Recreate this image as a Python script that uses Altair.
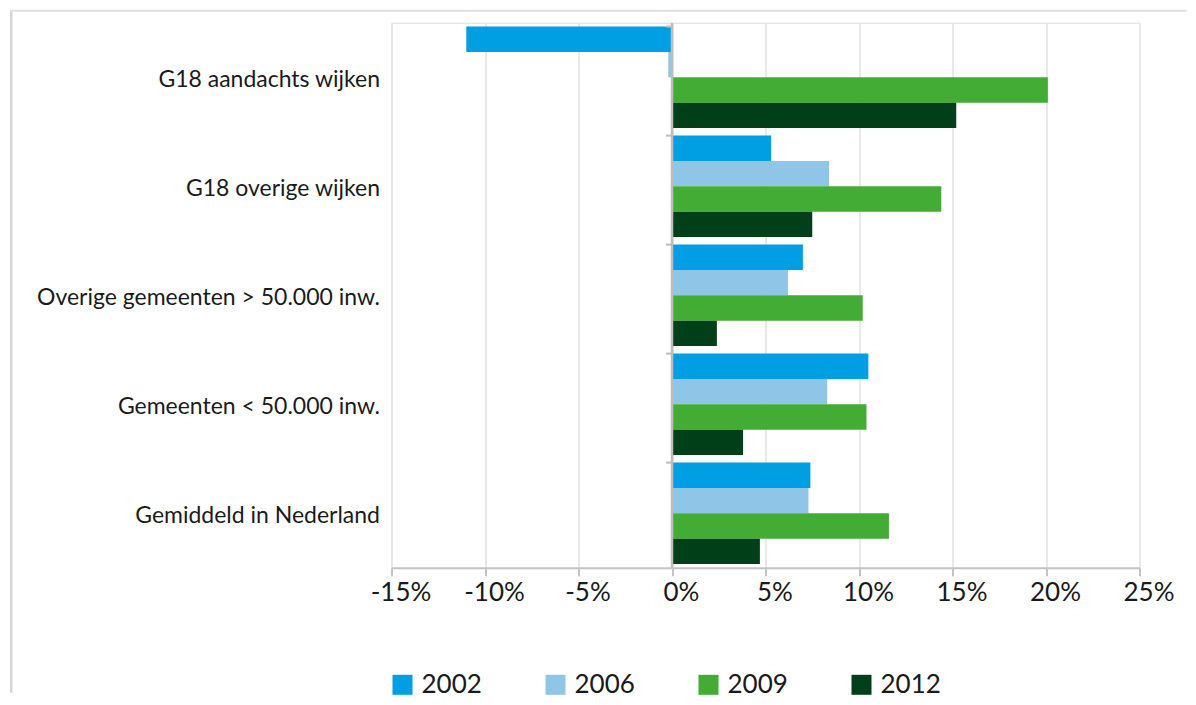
import altair as alt
import pandas as pd

categories = [
    "G18 aandachts wijken",
    "G18 overige wijken",
    "Overige gemeenten > 50.000 inw.",
    "Gemeenten < 50.000 inw.",
    "Gemiddeld in Nederland",
]
years = ["2002", "2006", "2009", "2012"]
v2002 = [-11.0, 5.3, 7.0, 10.5, 7.4]
v2006 = [-0.2, 8.4, 6.2, 8.3, 7.3]
v2009 = [20.1, 14.4, 10.2, 10.4, 11.6]
v2012 = [15.2, 7.5, 2.4, 3.8, 4.7]
colors = ["#009fe3", "#8fc6e8", "#43ac34", "#003f18"]
x_ticks = [-15, -10, -5, 0, 5, 10, 15, 20, 25]

rows = []
for yr, vals in zip(years, [v2002, v2006, v2009, v2012]):
    for c, v in zip(categories, vals):
        rows.append({"category": c, "year": yr, "value": v})
df = pd.DataFrame(rows)
cat_df = pd.DataFrame({"category": categories})

FONT = "Lato"
W, H = 748, 545

xscale = alt.Scale(domain=[-15, 25], nice=False, zero=False)
yscale = alt.Scale(domain=categories, paddingInner=0.07, paddingOuter=0.035)
yaxis = alt.Axis(domain=False, ticks=False, grid=False, labelFont=FONT,
                 labelFontSize=23, labelColor="#1a1a1a", labelPadding=12,
                 labelLimit=500, labelOffset=3)

bars = alt.Chart(df).mark_bar().encode(
    y=alt.Y("category:N", scale=yscale, sort=categories, title=None, axis=yaxis),
    yOffset=alt.YOffset("year:N", sort=years,
                        scale=alt.Scale(paddingInner=0, paddingOuter=0)),
    x=alt.X("value:Q", scale=xscale, title=None,
            axis=alt.Axis(values=x_ticks, labelExpr="datum.value + '%'",
                          labelFlush=False, labelOverlap=False, labelOffset=9,
                          domainColor="#c4c4c4", domainWidth=2, tickColor="#c4c4c4",
                          tickWidth=2, tickSize=8, gridColor="#e8e8e8", gridWidth=2,
                          labelFont=FONT, labelFontSize=26, labelColor="#1a1a1a",
                          labelPadding=4)),
    color=alt.Color("year:N", sort=years, scale=alt.Scale(domain=years, range=colors),
                    legend=alt.Legend(title=None, orient="none", legendX=-2, legendY=649,
                                      direction="horizontal", symbolType="square",
                                      symbolSize=400, symbolStrokeWidth=0,
                                      labelFont=FONT, labelFontSize=26,
                                      labelColor="#1a1a1a", labelOffset=6,
                                      columnPadding=60, padding=0)),
)

zero_line = alt.Chart(alt.Data(values=[{}])).mark_rule(
    color="#bdbdbd", strokeWidth=2.5
).encode(x=alt.datum(0, scale=xscale))

band_ticks = alt.Chart(cat_df).mark_rule(
    color="#bdbdbd", strokeWidth=2, x2Offset=-6
).encode(
    y=alt.Y("category:N", sort=categories, bandPosition=0, title=None, axis=yaxis),
    x=alt.datum(0),
    x2=alt.datum(0),
)

left_border = alt.Chart(alt.Data(values=[{}])).mark_rule(
    color="#d6d6d6", strokeWidth=2.5
).encode(x=alt.value(-380.3), y=alt.value(-12), y2=alt.value(670))

top_border = alt.Chart(alt.Data(values=[{}])).mark_rule(
    color="#e0e0e0", strokeWidth=2
).encode(y=alt.value(-12), x=alt.value(-381), x2=alt.value(795))

chart = alt.layer(bars, zero_line, band_ticks, left_border, top_border).properties(
    width=W, height=H,
    padding={"left": 1.5, "top": 0.8, "right": 0, "bottom": 0},
).configure_view(stroke=None).configure(background="white")

chart.save("out.html", embed_options={"renderer": "svg", "actions": False})
